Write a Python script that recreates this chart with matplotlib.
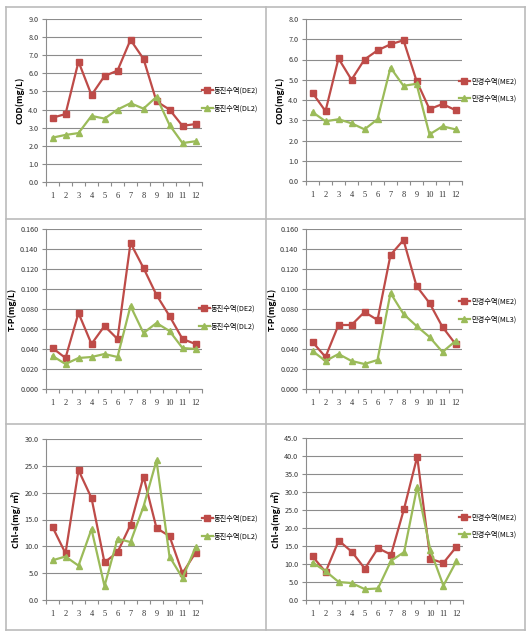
import matplotlib
matplotlib.use("Agg")
import matplotlib.pyplot as plt
from matplotlib.lines import Line2D

plt.rcParams['font.family'] = ['Noto Sans CJK KR', 'DejaVu Sans']

months = [1, 2, 3, 4, 5, 6, 7, 8, 9, 10, 11, 12]
month_labels = ['1', '2', '3', '4', '5', '6', '7', '8', '9', '10', '11', '12']

# COD (mg/L)
cod_de2 = [3.55, 3.75, 6.65, 4.8, 5.85, 6.15, 7.85, 6.8, 4.45, 4.0, 3.1, 3.2]
cod_dl2 = [2.45, 2.6, 2.7, 3.65, 3.5, 4.0, 4.35, 4.05, 4.7, 3.15, 2.15, 2.25]
cod_me2 = [4.35, 3.45, 6.05, 5.0, 6.0, 6.45, 6.75, 6.95, 4.95, 3.55, 3.8, 3.5]
cod_ml3 = [3.4, 2.95, 3.05, 2.85, 2.55, 3.05, 5.6, 4.7, 4.8, 2.3, 2.7, 2.55]

# T-P (mg/L)
tp_de2 = [0.041, 0.031, 0.076, 0.045, 0.063, 0.050, 0.146, 0.121, 0.094, 0.073, 0.050, 0.045]
tp_dl2 = [0.033, 0.025, 0.031, 0.032, 0.035, 0.032, 0.083, 0.056, 0.066, 0.058, 0.041, 0.040]
tp_me2 = [0.047, 0.032, 0.064, 0.064, 0.077, 0.069, 0.134, 0.149, 0.103, 0.086, 0.062, 0.045]
tp_ml3 = [0.038, 0.028, 0.035, 0.028, 0.025, 0.029, 0.096, 0.075, 0.063, 0.052, 0.037, 0.048]

# Chl-a (mg/m3)
chl_de2 = [13.6, 8.7, 24.2, 19.0, 7.0, 8.9, 14.0, 23.0, 13.4, 11.9, 5.0, 8.8]
chl_dl2 = [7.4, 8.1, 6.4, 13.2, 2.6, 11.4, 10.8, 17.4, 26.0, 8.1, 4.1, 9.8]
chl_me2 = [12.1, 7.8, 16.5, 13.4, 8.7, 14.4, 12.6, 25.4, 39.8, 11.4, 10.3, 14.8]
chl_ml3 = [10.4, 8.0, 5.0, 4.7, 3.0, 3.2, 10.9, 13.3, 31.5, 13.9, 4.0, 10.8]

names_dj = ['동진수역(DE2)', '동진수역(DL2)']
names_mg = ['만경수역(ME2)', '만경수역(ML3)']

RED = '#BE4B48'
GREEN = '#9BBB59'
GRID = '#8C8C8C'

W, H = 532, 634
fig = plt.figure(figsize=(W / 100, H / 100), dpi=100)
fig.patch.set_facecolor('white')


def px_axes(left, right, top, bottom):
    return fig.add_axes([left / W, 1 - bottom / H, (right - left) / W, (bottom - top) / H])


def panel(box, s1, s2, names, ymax, step, fmt, ylabel, leg_xy):
    ax = px_axes(*box)
    ax.plot(months, s1, color=RED, lw=1.6, marker='s', ms=4.2, mec=RED, mfc=RED, label=names[0])
    ax.plot(months, s2, color=GREEN, lw=1.6, marker='^', ms=4.2, mec=GREEN, mfc=GREEN, label=names[1])
    ax.set_xlim(0.5, 12.5)
    ax.set_ylim(0, ymax)
    nt = int(round(ymax / step))
    yt = [i * step for i in range(nt + 1)]
    ax.set_yticks(yt)
    ax.set_yticklabels([fmt.format(v) for v in yt], fontsize=5.2, color='#333333')
    ax.yaxis.grid(True, color=GRID, lw=0.8)
    ax.set_axisbelow(True)
    ax.set_xticks(months)
    ax.set_xticklabels(month_labels, fontsize=6, family='Liberation Serif', color='#333333')
    ax.set_xticks([m + 0.5 for m in range(0, 13)], minor=True)
    ax.tick_params(axis='x', which='major', length=0, pad=7)
    ax.tick_params(axis='x', which='minor', length=3, color=GRID, width=0.8)
    ax.tick_params(axis='y', length=3, color=GRID, width=0.8, pad=2.5)
    for s in ['top', 'right']:
        ax.spines[s].set_visible(False)
    for s in ['left', 'bottom']:
        ax.spines[s].set_color(GRID)
        ax.spines[s].set_linewidth(0.8)
    ax.set_ylabel(ylabel, fontsize=6.3, fontweight='bold', labelpad=2.5)
    ax.legend(loc='center left', bbox_to_anchor=(leg_xy[0] / W, 1 - leg_xy[1] / H),
              bbox_transform=fig.transFigure, frameon=False, fontsize=5.2,
              handlelength=1.5, handletextpad=0.15, labelspacing=1.3, borderpad=0,
              borderaxespad=0, markerscale=0.9)
    return ax


panel((46, 202, 19, 182), cod_de2, cod_dl2, names_dj, 9.0, 1.0, '{:.1f}', 'COD(mg/L)', (202, 99.5))
panel((306, 462, 19, 181), cod_me2, cod_ml3, names_mg, 8.0, 1.0, '{:.1f}', 'COD(mg/L)', (459, 90))
panel((46, 202, 229, 389), tp_de2, tp_dl2, names_dj, 0.16, 0.02, '{:.3f}', 'T-P(mg/L)', (199, 317.5))
panel((306, 462, 229, 389), tp_me2, tp_ml3, names_mg, 0.16, 0.02, '{:.3f}', 'T-P(mg/L)', (459, 310.5))
panel((46, 202, 439, 600), chl_de2, chl_dl2, names_dj, 30.0, 5.0, '{:.1f}', 'Chl-a(mg/ ㎥)', (202, 527.5))
panel((306, 463, 438, 600), chl_me2, chl_ml3, names_mg, 45.0, 5.0, '{:.1f}', 'Chl-a(mg/ ㎥)', (459, 526))

# panel frames
BORDER = '#BBBBBB'
xs = [6, 266, 525]
ys = [7, 219, 424, 630]
for x in xs:
    fig.add_artist(Line2D([x / W, x / W], [1 - ys[0] / H, 1 - ys[-1] / H], color=BORDER, lw=1.2))
for y in ys:
    fig.add_artist(Line2D([xs[0] / W, xs[-1] / W], [1 - y / H, 1 - y / H], color=BORDER, lw=1.2))

fig.savefig('out.png', dpi=100)
